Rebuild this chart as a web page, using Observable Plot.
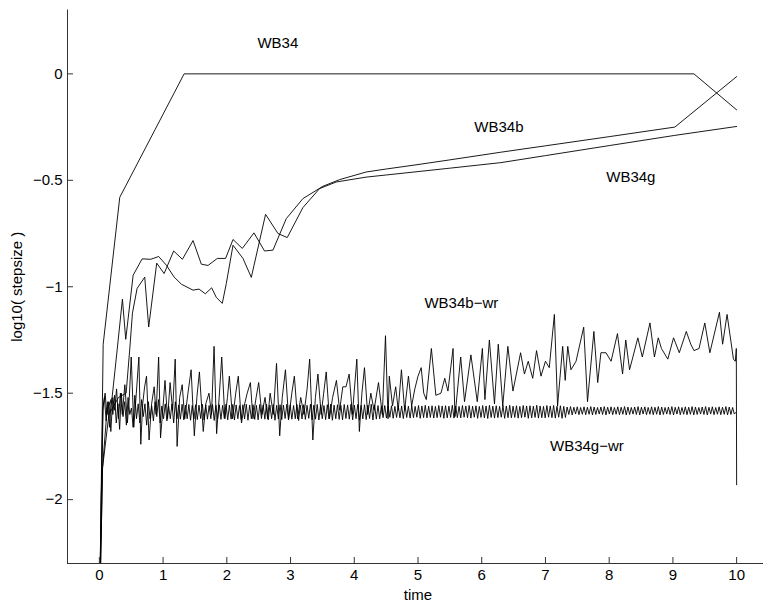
<!DOCTYPE html>
<html><head><meta charset="utf-8">
<script src="https://cdn.jsdelivr.net/npm/d3@7"></script>
<script src="https://cdn.jsdelivr.net/npm/@observablehq/plot@0.6"></script>
<style>html,body{margin:0;padding:0;background:#fff}svg{display:block}</style>
</head><body><div id="chart"></div>
<script>
// ---- ticks ----
const xTicks = [0,1,2,3,4,5,6,7,8,9,10];
const yTicks = [-2,-1.5,-1,-0.5,0];
const xDomain = [-0.5, 10.5];
const yDomain = [-2.3, 0.3];

// ---- WB34 ----
const wb34T = [0, 0.06, 0.32, 1.33, 9.33, 10.0];
const wb34V = [-2.6, -1.27, -0.58, 0, 0, -0.169];

// ---- WB34b ----
const wb34bT = [0,0.05,0.15,0.3,0.42,0.476,0.519,0.592,0.712,0.774,0.900,1.016,1.166,1.303,1.470,1.600,1.705,1.851,1.981,2.097,2.243,2.426,2.592,2.724,2.933,3.194,3.508,3.768,4.186,4.5,5.0,5.5,6.3,7.0,8.0,9.03,10.0];
const wb34bV = [-2.6,-1.85,-1.6,-1.52,-1.5,-1.297,-1.124,-1.008,-0.955,-1.189,-0.889,-0.938,-0.832,-0.871,-0.783,-0.894,-0.900,-0.867,-0.867,-0.778,-0.820,-0.747,-0.832,-0.828,-0.680,-0.586,-0.528,-0.497,-0.461,-0.447,-0.426,-0.404,-0.368,-0.338,-0.295,-0.25,-0.013];

// ---- WB34g ----
const wb34gT = [0,0.05,0.12,0.2,0.279,0.362,0.414,0.530,0.671,0.806,0.931,1.052,1.172,1.287,1.470,1.564,1.663,1.762,1.835,1.929,1.992,2.097,2.254,2.384,2.608,2.803,2.948,3.194,3.455,3.716,4.186,4.5,5.0,5.5,6.3,7.0,8.0,9.03,10.0];
const wb34gV = [-2.6,-1.85,-1.58,-1.52,-1.297,-1.058,-1.247,-0.946,-0.869,-0.871,-0.858,-0.899,-0.954,-0.988,-1.016,-1.011,-1.033,-1.005,-1.050,-1.078,-0.985,-0.805,-0.867,-0.956,-0.660,-0.750,-0.769,-0.628,-0.539,-0.508,-0.485,-0.475,-0.459,-0.443,-0.417,-0.384,-0.337,-0.289,-0.247];

// ---- WB34b-wr ----
const wrbT = [0,0.03,0.06,0.09,0.12,0.15,0.18,0.21,0.24,0.27,0.30,0.33,0.36,0.40,0.44,0.47,0.50,0.54,0.58,0.62,0.65,0.68,0.71,0.74,0.78,0.82,0.86,0.89,0.93,0.96,1.00,1.03,1.07,1.11,1.15,1.19,1.22,1.26,1.30,1.34,1.39,1.44,1.49,1.53,1.57,1.63,1.67,1.72,1.76,1.80,1.84,1.88,1.92,1.97,2.01,2.04,2.09,2.14,2.18,2.23,2.28,2.32,2.37,2.41,2.46,2.50,2.55,2.60,2.64,2.68,2.73,2.78,2.83,2.87,2.92,2.97,3.02,3.06,3.11,3.16,3.21,3.26,3.30,3.35,3.39,3.43,3.48,3.52,3.56,3.61,3.66,3.72,3.77,3.82,3.87,3.92,3.97,4.04,4.08,4.12,4.16,4.21,4.26,4.31,4.38,4.44,4.49,4.53,4.55,4.60,4.65,4.69,4.74,4.79,4.85,4.90,4.95,5.00,5.05,5.09,5.13,5.21,5.28,5.36,5.42,5.47,5.55,5.58,5.67,5.73,5.83,5.93,6.01,6.05,6.12,6.20,6.26,6.33,6.41,6.49,6.61,6.67,6.73,6.80,6.86,6.93,7.00,7.06,7.14,7.19,7.27,7.31,7.35,7.40,7.48,7.60,7.66,7.76,7.82,7.87,7.95,8.03,8.13,8.21,8.26,8.32,8.45,8.52,8.64,8.71,8.77,8.82,8.92,9.01,9.10,9.21,9.28,9.33,9.41,9.50,9.58,9.73,9.78,9.85,9.95,9.98,9.995,10.0];
const wrbV = [-2.6,-2.0,-1.56,-1.50,-1.60,-1.54,-1.68,-1.52,-1.58,-1.48,-1.62,-1.50,-1.60,-1.46,-1.64,-1.52,-1.33,-1.66,-1.50,-1.33,-1.74,-1.55,-1.47,-1.42,-1.72,-1.55,-1.47,-1.60,-1.33,-1.71,-1.56,-1.44,-1.62,-1.45,-1.58,-1.34,-1.75,-1.52,-1.46,-1.62,-1.50,-1.39,-1.70,-1.52,-1.40,-1.68,-1.55,-1.50,-1.60,-1.28,-1.69,-1.52,-1.33,-1.62,-1.52,-1.42,-1.62,-1.50,-1.42,-1.64,-1.55,-1.50,-1.45,-1.62,-1.52,-1.45,-1.60,-1.52,-1.62,-1.50,-1.60,-1.36,-1.70,-1.52,-1.39,-1.62,-1.50,-1.42,-1.62,-1.52,-1.60,-1.48,-1.34,-1.72,-1.52,-1.41,-1.60,-1.50,-1.40,-1.62,-1.52,-1.44,-1.58,-1.47,-1.47,-1.41,-1.60,-1.34,-1.68,-1.50,-1.38,-1.60,-1.50,-1.58,-1.45,-1.60,-1.23,-1.62,-1.42,-1.56,-1.47,-1.58,-1.39,-1.58,-1.42,-1.56,-1.48,-1.42,-1.38,-1.50,-1.53,-1.29,-1.51,-1.50,-1.43,-1.49,-1.29,-1.61,-1.33,-1.54,-1.32,-1.54,-1.29,-1.53,-1.25,-1.55,-1.27,-1.56,-1.28,-1.49,-1.31,-1.41,-1.35,-1.43,-1.30,-1.42,-1.35,-1.38,-1.13,-1.56,-1.28,-1.44,-1.28,-1.39,-1.35,-1.19,-1.54,-1.21,-1.45,-1.31,-1.31,-1.35,-1.22,-1.41,-1.25,-1.39,-1.24,-1.33,-1.17,-1.33,-1.24,-1.29,-1.34,-1.24,-1.31,-1.21,-1.27,-1.30,-1.29,-1.17,-1.31,-1.12,-1.27,-1.13,-1.34,-1.35,-1.29,-1.93];

// ---- WB34g-wr (uniform time grid from wrgStart to wrgEnd) ----
const wrgStart = 0, wrgEnd = 9.99;
const wrgV = [
-2.6,-2.05,-1.58,-1.52,-1.63,-1.54,-1.66,-1.53,-1.60,-1.51,
-1.64,-1.55,-1.67,-1.50,-1.61,-1.54,-1.65,-1.52,-1.60,-1.57,
-1.66,-1.51,-1.62,-1.55,-1.64,-1.53,-1.61,-1.55,-1.65,-1.54,
-1.62,-1.56,-1.63,-1.54,-1.61,-1.53,-1.64,-1.56,-1.62,-1.55,
-1.63,-1.56,-1.62,-1.55,-1.64,-1.54,-1.62,
-1.555,-1.622,-1.552,-1.625,-1.556,-1.620,-1.553,-1.627,-1.557,-1.621,
-1.554,-1.624,-1.556,-1.619,-1.552,-1.626,-1.555,-1.622,-1.558,-1.620,
-1.553,-1.628,-1.556,-1.621,-1.554,-1.623,-1.557,-1.618,-1.552,-1.625,
-1.556,-1.622,-1.553,-1.626,-1.555,-1.620,-1.558,-1.624,-1.554,-1.621,
-1.552,-1.627,-1.556,-1.620,-1.554,-1.623,-1.557,-1.625,-1.553,-1.619,
-1.555,-1.622,-1.552,-1.625,-1.556,-1.620,-1.553,-1.627,-1.557,-1.621,
-1.554,-1.624,-1.556,-1.619,-1.552,-1.626,-1.555,-1.622,-1.558,-1.620,
-1.553,-1.628,-1.556,-1.621,-1.554,-1.623,-1.557,-1.618,-1.552,-1.625,
-1.556,-1.622,-1.553,-1.626,-1.555,-1.620,-1.558,-1.624,-1.554,-1.621,
-1.552,-1.627,-1.556,-1.620,-1.554,-1.623,-1.557,-1.625,-1.553,-1.619,
-1.555,-1.622,-1.552,-1.625,-1.556,-1.620,-1.553,-1.627,-1.557,-1.621,
-1.554,-1.624,-1.556,-1.619,-1.552,-1.626,-1.555,-1.622,-1.558,-1.620,
-1.560,-1.615,-1.558,-1.617,-1.561,-1.613,-1.559,-1.618,-1.562,-1.614,
-1.558,-1.616,-1.560,-1.619,-1.557,-1.614,-1.561,-1.617,-1.559,-1.615,
-1.562,-1.613,-1.558,-1.618,-1.560,-1.615,-1.557,-1.616,-1.561,-1.614,
-1.559,-1.617,-1.562,-1.615,-1.558,-1.613,-1.560,-1.618,-1.559,-1.616,
-1.561,-1.614,-1.557,-1.617,-1.560,-1.615,-1.562,-1.616,-1.558,-1.613,
-1.560,-1.615,-1.558,-1.617,-1.561,-1.613,-1.559,-1.618,-1.562,-1.614,
-1.558,-1.616,-1.560,-1.619,-1.557,-1.614,-1.561,-1.617,-1.559,-1.615,
-1.562,-1.613,-1.558,-1.618,-1.560,-1.615,-1.557,-1.616,-1.561,-1.614,
-1.559,-1.617,-1.562,-1.615,-1.558,-1.613,-1.560,-1.618,-1.559,-1.616,
-1.561,-1.614,-1.557,-1.617,-1.560,-1.615,-1.562,-1.616,-1.558,-1.613,
-1.560,-1.615,-1.558,-1.617,-1.561,-1.613,-1.559,-1.618,-1.562,-1.614,
-1.565,-1.600,-1.563,-1.602,-1.566,-1.598,-1.564,-1.601,-1.567,-1.599,
-1.564,-1.601,-1.566,-1.599,-1.563,-1.602,-1.565,-1.600,-1.567,-1.598,
-1.565,-1.600,-1.563,-1.602,-1.566,-1.598,-1.564,-1.601,-1.567,-1.599,
-1.564,-1.601,-1.566,-1.599,-1.563,-1.602,-1.565,-1.600,-1.567,-1.598,
-1.565,-1.600,-1.563,-1.602,-1.566,-1.598,-1.564,-1.601,-1.567,-1.599,
-1.564,-1.601,-1.566,-1.599,-1.563,-1.602,-1.565,-1.600,-1.567,-1.598,
-1.565,-1.600,-1.563,-1.602,-1.566,-1.598,-1.564,-1.601,-1.567,-1.599,
-1.564,-1.601,-1.566,-1.599,-1.563,-1.602,-1.565,-1.600,-1.567,-1.598,
-1.565,-1.600,-1.563,-1.602,-1.566,-1.598,-1.564,-1.601,-1.567,-1.599,
-1.564,-1.601,-1.566,-1.599,-1.563,-1.602,-1.565,-1.600,-1.567,-1.598,
-1.590
];

// ---- series labels (data coordinates) ----
const seriesLabels = ["WB34","WB34b","WB34g","WB34b\u2212wr","WB34g\u2212wr"];
const labelX = [2.80, 6.27, 8.34, 5.68, 7.65];
const labelY = [0.142, -0.252, -0.485, -1.078, -1.75];

function pts(name, ts, vs) { return ts.map((t, i) => ({series: name, t, v: vs[i]})); }
const wrgT = wrgV.map((_, i) => wrgStart + i * (wrgEnd - wrgStart) / (wrgV.length - 1));
const data = [
  ...pts("WB34", wb34T, wb34V),
  ...pts("WB34b", wb34bT, wb34bV),
  ...pts("WB34g", wb34gT, wb34gV),
  ...pts("WB34b-wr", wrbT, wrbV),
  ...pts("WB34g-wr", wrgT, wrgV)
];

const W = 763, H = 601, mL = 67, mR = -5, mT = 9.5, mB = 38;
const plotW = W - mL - mR, plotH = H - mT - mB;
const axisColor = "#333";
const fmt = d => (d < 0 ? "\u2212" : "") + String(Math.abs(d));

const chart = Plot.plot({
  width: W, height: H,
  marginLeft: mL, marginRight: mR, marginTop: mT, marginBottom: mB,
  style: {fontFamily: "'Liberation Sans', Arial, Helvetica, sans-serif", fontSize: "15px", background: "#fff", color: "#000"},
  x: {domain: xDomain},
  y: {domain: yDomain},
  marks: [
    Plot.line(data, {x: "t", y: "v", z: "series", stroke: "#000", strokeWidth: 0.9, clip: true}),
    Plot.ruleX([xDomain[0]], {stroke: axisColor}),
    Plot.ruleY([yDomain[0]], {stroke: axisColor}),
    Plot.tickX(xTicks, {x: d => d, insetTop: plotH - 6, stroke: axisColor}),
    Plot.tickY(yTicks, {y: d => d, insetRight: plotW - 6, stroke: axisColor}),
    Plot.axisX({ticks: xTicks, tickFormat: fmt, tickSize: 0, tickPadding: 6, label: "time", labelAnchor: "center", labelOffset: 36, labelArrow: "none"}),
    Plot.axisY({ticks: yTicks, tickFormat: fmt, tickSize: 0, tickPadding: 5, label: "log10( stepsize )", labelAnchor: "center", labelOffset: 56, labelArrow: "none"}),
    Plot.text(seriesLabels, {x: (d, i) => labelX[i], y: (d, i) => labelY[i], text: d => d, fontSize: 15, fill: "#000"})
  ]
});
document.getElementById("chart").appendChild(chart);
</script>
</body></html>
